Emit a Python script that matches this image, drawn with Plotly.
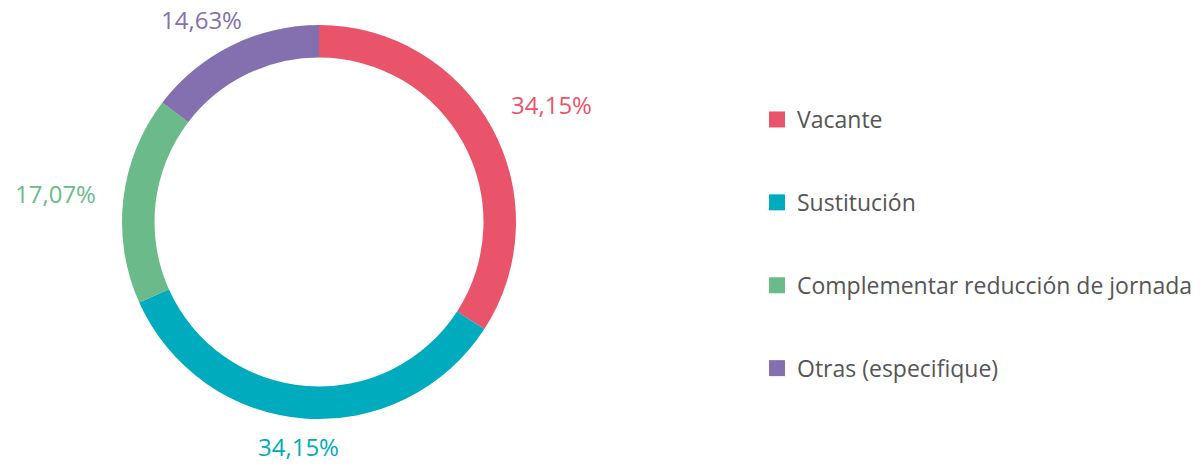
import math
import plotly.graph_objects as go

# Data
labels = ['Vacante', 'Sustitución', 'Complementar reducción de jornada', 'Otras (especifique)']
counts = [14, 14, 7, 6]
colors = ['#E9546B', '#00ABBD', '#6ABB89', '#8570AF']

W, H = 1202, 468
cx, cy, R = 319, 222, 197

total = sum(counts)
pct_text = [f"{c / total * 100:.2f}".replace('.', ',') + '%' for c in counts]

fig = go.Figure()

fig.add_trace(go.Pie(
    labels=labels,
    values=counts,
    hole=0.835,
    sort=False,
    direction='clockwise',
    rotation=0,
    marker=dict(colors=colors, line=dict(width=0)),
    textinfo='none',
    hoverinfo='label+percent',
    showlegend=False,
    domain=dict(x=[(cx - R) / W, (cx + R) / W], y=[(H - cy - R) / H, (H - cy + R) / H]),
))

# legend entries (one group each so they can be spaced apart)
for lab, col in zip(labels, colors):
    fig.add_trace(go.Scatter(
        x=[None], y=[None], mode='markers', name=lab, legendgroup=lab,
        marker=dict(symbol='square', size=20, color=col),
    ))

# outside percentage labels around the ring
cum = 0
for c, txt, col in zip(counts, pct_text, colors):
    mid = (cum + c / 2) / total * 2 * math.pi
    cum += c
    px_ = cx + 265 * math.sin(mid)
    py_ = cy - 245 * math.cos(mid)
    py_ = min(max(py_, 20), 446)  # keep labels inside the canvas
    fig.add_annotation(
        x=px_ / W, y=1 - py_ / H, xref='paper', yref='paper',
        text=txt, showarrow=False, xanchor='center', yanchor='middle',
        font=dict(size=24, color=col),
    )

fig.update_layout(
    width=W, height=H,
    margin=dict(l=0, r=0, t=0, b=0),
    paper_bgcolor='white',
    plot_bgcolor='white',
    font=dict(family='Open Sans, sans-serif', size=23, color='#555555'),
    xaxis=dict(visible=False),
    yaxis=dict(visible=False),
    legend=dict(
        x=757 / W, y=1 - 98 / H, xanchor='left', yanchor='top',
        tracegroupgap=50, itemsizing='trace',
        font=dict(size=23, color='#555555'),
        bgcolor='rgba(0,0,0,0)',
    ),
)

fig.write_html("out.html", config={'displayModeBar': False},
               post_script="document.body.style.margin='0';")
